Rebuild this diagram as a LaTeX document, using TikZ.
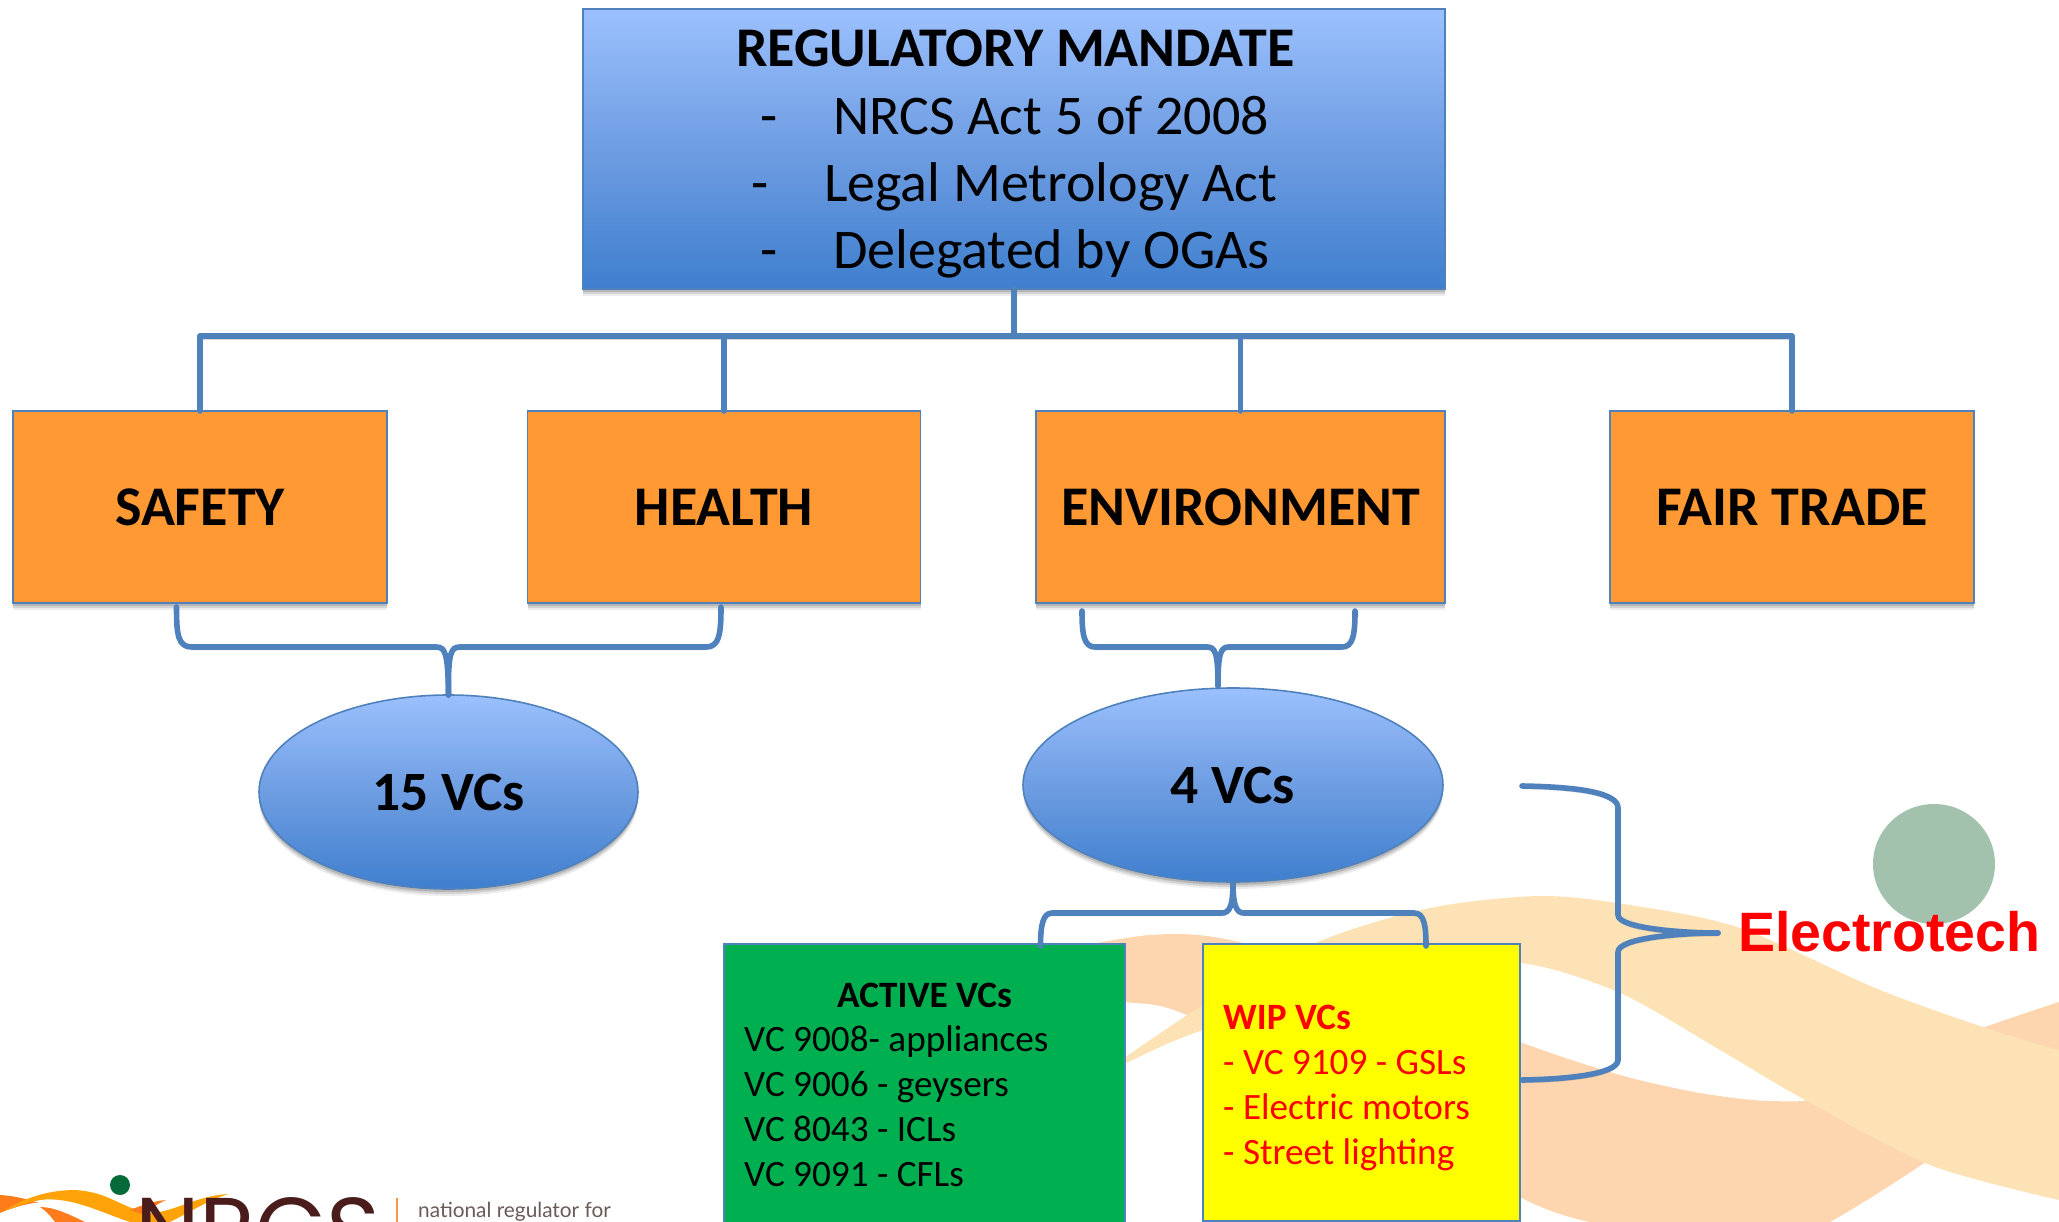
\documentclass[tikz,border=0pt]{standalone}
\usepackage{fontspec}
\setmainfont{Carlito}
\newfontfamily\arialfont{Liberation Sans}
\newfontfamily\logofont{Poppins}
\newfontfamily\logotext{Lato}
\usetikzlibrary{shapes.geometric,shadows,calc}
\definecolor{edgeblue}{HTML}{4F81BD}
\definecolor{gradtop}{HTML}{9BC0FD}
\definecolor{gradmid}{HTML}{6E9DE2}
\definecolor{gradbot}{HTML}{3F7FCE}
\definecolor{boxorange}{HTML}{FF9933}
\definecolor{boxgreen}{HTML}{00B050}
\definecolor{boxyellow}{HTML}{FFFF00}
\definecolor{textred}{HTML}{FF0000}
\definecolor{peachwave}{HTML}{FDD5AF}
\definecolor{sandwave}{HTML}{FCE2B4}
\definecolor{paledot}{HTML}{A3C2AD}
\definecolor{logobrown}{HTML}{4A1C1C}
\definecolor{logoamber}{HTML}{FFA308}
\definecolor{logoorange}{HTML}{FF7B1C}
\definecolor{logogreen}{HTML}{046A38}
\definecolor{logogrey}{HTML}{6A5A56}
\tikzset{
  softshadow/.style={
    drop shadow={shadow xshift=0pt,shadow yshift=-7pt,opacity=.07,fill=black},
    drop shadow={shadow xshift=0pt,shadow yshift=-5pt,opacity=.11,fill=black},
    drop shadow={shadow xshift=0pt,shadow yshift=-3pt,opacity=.14,fill=black}},
  basebox/.style={rectangle,draw=edgeblue,line width=1.6pt,inner sep=0pt,outer sep=0pt,anchor=center},
  bluefill/.style={top color=gradtop,bottom color=gradbot,middle color=gradmid},
  mainbox/.style={basebox,bluefill,softshadow},
  catbox/.style={basebox,fill=boxorange,softshadow,font=\fontsize{56}{62}\selectfont\bfseries,text height=36pt,text depth=0pt},
  vcoval/.style={ellipse,draw=edgeblue,line width=1.6pt,inner sep=0pt,outer sep=0pt,bluefill,softshadow,font=\fontsize{55.5}{62}\selectfont\bfseries,text height=36pt,text depth=0pt},
  mainhead/.style={anchor=base west,inner sep=0pt,font=\fontsize{56}{62}\selectfont\bfseries},
  mainline/.style={anchor=base west,inner sep=0pt,font=\fontsize{56}{62}\selectfont},
  listline/.style={anchor=base west,inner sep=0pt,font=\fontsize{37.2}{44}\selectfont},
  conn/.style={draw=edgeblue,line width=5.6pt,line cap=round,line join=round,
    preaction={draw=black,opacity=.15,transform canvas={yshift=-3pt}}}
}
\begin{document}
\begin{tikzpicture}[x=1pt,y=-1pt]
\useasboundingbox (0,0) rectangle (2059,1222);
\clip (0,0) rectangle (2059,1222);
% background waves
\fill[peachwave] plot[smooth] coordinates {(1050,952) (1150,935) (1230,940) (1380,985) (1520,1042) (1620,1075) (1700,1093) (1770,1101) (1830,1095) (1950,1040) (2059,1002)}
  -- (2059,1090) .. controls (1990,1110) and (1930,1165) .. (1830,1222) -- (1590,1222)
  -- plot[smooth] coordinates {(1590,1222) (1520,1197) (1350,1090) (1182,1013) (1126,1002) (1050,990)} -- cycle;
\fill[sandwave] plot[smooth] coordinates {(1100,1075) (1203,1005) (1318,942) (1430,908) (1540,896) (1630,905) (1740,928) (1880,990) (1992,1030) (2059,1050)}
  -- (2059,1200) -- plot[smooth] coordinates {(2059,1200) (1930,1165) (1805,1100) (1720,1050) (1620,993) (1520,963) (1400,970) (1203,1030) (1126,1063) (1100,1075)} -- cycle;
\fill[paledot] (1934,864) ellipse[x radius=61,y radius=60];
% logo
\fill[logoorange] (0,1195) .. controls (20,1196) and (45,1203) .. (85,1222) -- (0,1222) -- cycle;
\fill[white] (0,1213) .. controls (20,1205) and (40,1200) .. (55,1203) .. controls (70,1208) and (85,1216) .. (100,1222) -- (0,1222) -- cycle;
\fill[logoorange] (40,1207) .. controls (55,1207) and (70,1215) .. (85,1222) -- (55,1222) .. controls (50,1215) and (45,1210) .. (40,1207) -- cycle;
\fill[logoamber] (2,1212) .. controls (25,1197) and (50,1190) .. (75,1190) .. controls (110,1192) and (120,1208) .. (150,1213) .. controls (175,1212) and (195,1196) .. (228,1194) .. controls (205,1202) and (190,1212) .. (170,1222) -- (130,1222) .. controls (100,1212) and (70,1196) .. (40,1200) .. controls (25,1203) and (12,1208) .. (2,1212) -- cycle;
\fill[logoorange] (130,1210) .. controls (145,1204) and (155,1201) .. (166,1200) .. controls (155,1205) and (150,1210) .. (142,1214) -- cycle;
\fill[logogreen] (120,1185) ellipse[x radius=10,y radius=10];
\node[anchor=base west,inner sep=0pt,text=logobrown,font=\logofont\fontsize{92}{92}\selectfont] (logoword) at (135,1262) {NRCS};
\fill[logoorange!80!white] (395.5,1198) rectangle (398,1222);
\node[anchor=base west,inner sep=0pt,text=logogrey,font=\logotext\fontsize{20.8}{24}\selectfont] (logotag) at (418,1217) {national regulator for};
% main box
\node[mainbox,minimum width=862pt,minimum height=280pt] (main) at (1014,149) {};
\node[mainhead] (mainT) at (736,67) {REGULATORY MANDATE};
\node[mainline] (d1) at (760,135) {-};
\node[mainline] (l1) at (833,135) {NRCS Act 5 of 2008};
\node[mainline] (d2) at (751,202) {-};
\node[mainline] (l2) at (824,202) {Legal Metrology Act};
\node[mainline] (d3) at (760,269) {-};
\node[mainline] (l3) at (833,269) {Delegated by OGAs};
% category boxes
\node[catbox,minimum width=374pt,minimum height=192pt] (safety) at (200,507) {SAFETY};
\node[catbox,minimum width=393pt,minimum height=192pt] (health) at (724,507) {HEALTH};
\node[catbox,minimum width=409pt,minimum height=192pt] (env) at (1240.5,507) {ENVIRONMENT};
\node[catbox,minimum width=364pt,minimum height=192pt] (fair) at (1792,507) {FAIR TRADE};
% ovals
\node[vcoval,minimum width=379pt,minimum height=194pt] (vc15) at (448.5,792) {15 VCs};
\node[vcoval,minimum width=420pt,minimum height=194pt] (vc4) at (1233,785) {4 VCs};
% lower boxes
\node[basebox,fill=boxgreen,minimum width=401pt,minimum height=300pt] (active) at (924.5,1094) {};
\node[basebox,fill=boxyellow,minimum width=317pt,minimum height=277pt] (wip) at (1361.5,1082.5) {};
\node[listline,font=\fontsize{37.2}{44}\selectfont\bfseries] (activeT) at (837,1007) {ACTIVE VCs};
\node[listline] (a1) at (744,1051) {VC 9008- appliances};
\node[listline] (a2) at (744,1096) {VC 9006 - geysers};
\node[listline] (a3) at (744,1141) {VC 8043 - ICLs};
\node[listline] (a4) at (744,1186) {VC 9091 - CFLs};
\node[listline,text=textred,font=\fontsize{37.2}{44}\selectfont\bfseries] (wipT) at (1223,1029) {WIP VCs};
\node[listline,text=textred] (w1) at (1223,1074) {- VC 9109 - GSLs};
\node[listline,text=textred] (w2) at (1223,1119) {- Electric motors};
\node[listline,text=textred] (w3) at (1223,1164) {- Street lighting};
\node[anchor=base west,inner sep=0pt,text=textred,font=\arialfont\fontsize{55.5}{60}\selectfont\bfseries] (electro) at (1738,951) {Electrotech};
% tree from the mandate
\coordinate (busL) at (200,336);
\draw[conn] (main.south) -- (main.south|-busL);
\draw[conn] (safety.north) -- (busL) -- (fair.north|-busL) -- (fair.north);
\draw[conn] (health.north) -- (health.north|-busL);
\draw[conn] (env.north) -- (env.north|-busL);
% brace under safety and health
\coordinate (b1l) at (176.5,607);
\coordinate (b1r) at (721,607);
\draw[conn] (b1l) .. controls (176.5,635) and (178,647) .. (192,647) -- (436,647) .. controls (445,647) and (448,652) .. (vc15.north);
\draw[conn] (b1r) .. controls (721,635) and (719,647) .. (706,647) -- (460,647) .. controls (451,647) and (448,652) .. (vc15.north);
% brace under environment
\coordinate (b2l) at (1082,611);
\coordinate (b2r) at (1355,611);
\draw[conn] (b2l) .. controls (1082,635) and (1084,647) .. (1095,647) -- (1207,647) .. controls (1215,647) and (1218,652) .. (1218,686);
\draw[conn] (b2r) .. controls (1355,635) and (1353,647) .. (1342,647) -- (1229,647) .. controls (1221,647) and (1218,652) .. (1218,686);
% brace under 4 VCs
\coordinate (b3l) at (1040.5,946);
\coordinate (b3r) at (1426,946);
\draw[conn] (vc4.south) .. controls (1233,905) and (1230,913) .. (1222,913) -- (1052,913) .. controls (1043,913) and (1040.5,925) .. (b3l);
\draw[conn] (vc4.south) .. controls (1233,905) and (1236,913) .. (1244,913) -- (1414,913) .. controls (1424,913) and (1426,925) .. (b3r);
% big brace to Electrotech
\coordinate (b4t) at (1522,786);
\coordinate (b4b) at (1522,1080);
\coordinate (b4tip) at (1718,933);
\draw[conn] (b4t) .. controls (1580,787) and (1618,793) .. (1618,808) -- (1618,915) .. controls (1618,928) and (1680,933) .. (b4tip);
\draw[conn] (b4b) .. controls (1580,1079) and (1618,1072) .. (1618,1060) -- (1618,952) .. controls (1618,938) and (1680,933) .. (b4tip);
\end{tikzpicture}
\end{document}
